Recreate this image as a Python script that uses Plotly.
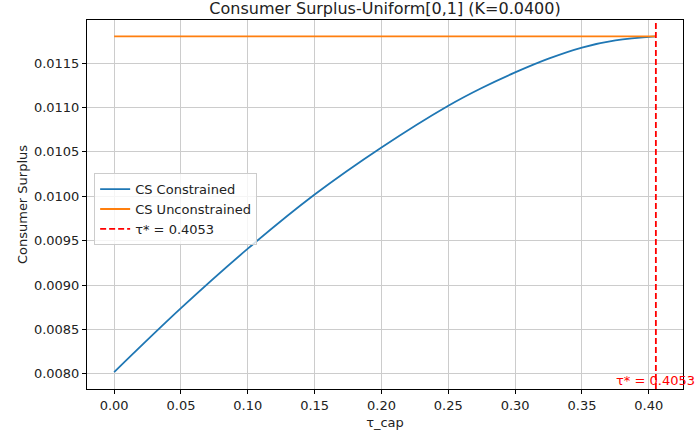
import plotly.graph_objects as go

# Data
tau_cap = [0.0, 0.05, 0.10, 0.15, 0.20, 0.25, 0.275, 0.30, 0.325, 0.35, 0.375, 0.4053]
cs_constrained = [0.00802, 0.00874, 0.00941, 0.01002, 0.01055, 0.01102, 0.01122, 0.011395, 0.01155, 0.011675, 0.011755, 0.01180]
cs_unconstrained_value = 0.01180
tau_star = 0.4053
x_ticks = [0.0, 0.05, 0.10, 0.15, 0.20, 0.25, 0.30, 0.35, 0.40]
y_ticks = [0.0080, 0.0085, 0.0090, 0.0095, 0.0100, 0.0105, 0.0110, 0.0115]

x_range = [-0.0203, 0.4256]
y_range = [0.00783, 0.011985]

font = "DejaVu Sans"
txt = "#222"

fig = go.Figure()
fig.add_trace(go.Scatter(
    x=tau_cap, y=cs_constrained, mode="lines", name="CS Constrained",
    line=dict(color="#1f77b4", width=1.8, shape="spline", smoothing=1.0)))
fig.add_trace(go.Scatter(
    x=[tau_cap[0], tau_cap[-1]], y=[cs_unconstrained_value, cs_unconstrained_value],
    mode="lines", name="CS Unconstrained",
    line=dict(color="#ff7f0e", width=1.8)))
fig.add_trace(go.Scatter(
    x=[tau_star, tau_star], y=y_range, mode="lines",
    name="τ* = %.4f" % tau_star,
    line=dict(color="red", width=1.8, dash="6px,3px")))

fig.add_annotation(
    x=tau_star, y=0, xref="x", yref="paper", yanchor="bottom", xanchor="center",
    text="τ* = %.4f" % tau_star, showarrow=False, borderpad=0,
    font=dict(family=font, size=13, color="red"))

axis_common = dict(
    showline=True, linecolor="black", linewidth=1, mirror=True,
    ticks="outside", ticklen=4, tickcolor="black", tickwidth=1,
    showgrid=True, gridcolor="#cccccc", gridwidth=1, zeroline=False,
    tickfont=dict(family=font, size=13, color=txt),
)

fig.update_xaxes(range=x_range, tickvals=x_ticks, tickformat=".2f",
                 title=dict(text="τ_cap", font=dict(family=font, size=13, color=txt), standoff=6),
                 **axis_common)
fig.update_yaxes(range=y_range, tickvals=y_ticks, tickformat=".4f",
                 title=dict(text="Consumer Surplus", font=dict(family=font, size=13, color=txt), standoff=3),
                 **axis_common)

fig.update_layout(
    width=696, height=440,
    margin=dict(l=87, r=13, t=20, b=49),
    paper_bgcolor="white", plot_bgcolor="white",
    font=dict(family=font, size=13, color=txt),
    title=dict(text="Consumer Surplus-Uniform[0,1] (K=0.0400)", x=385 / 696, xanchor="center",
               y=1 - 8 / 440, yanchor="middle", yref="container",
               font=dict(family=font, size=16, color=txt)),
    legend=dict(x=0.012, y=0.585, xanchor="left", yanchor="top",
                bgcolor="rgba(255,255,255,0.8)", bordercolor="#cccccc", borderwidth=1,
                itemwidth=30, tracegroupgap=0,
                font=dict(family=font, size=13, color=txt)),
    showlegend=True,
)

fig.write_html("out.html", config={"displayModeBar": False},
               post_script="document.body.style.margin='0px';document.body.style.padding='0px';document.body.style.overflow='hidden';")
